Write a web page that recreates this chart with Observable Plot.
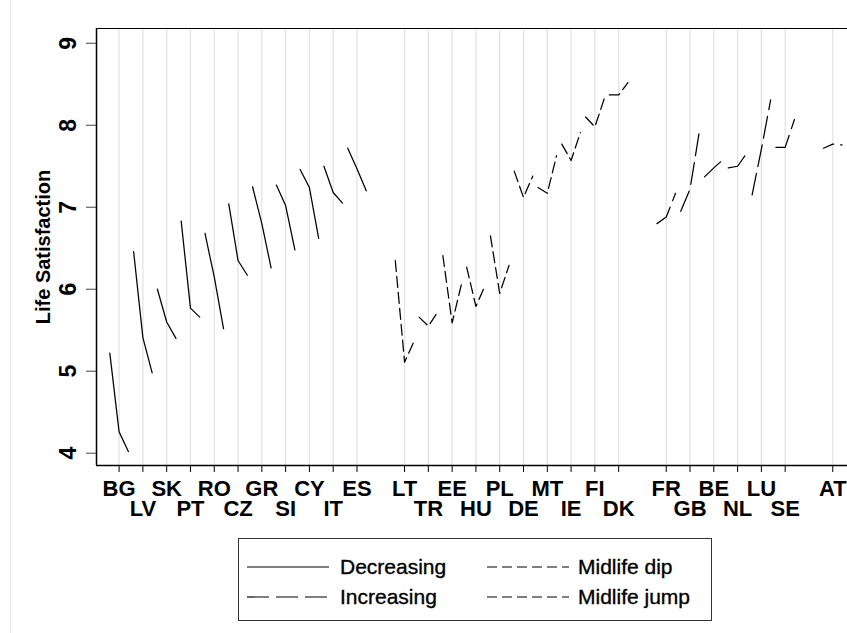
<!DOCTYPE html>
<html>
<head>
<meta charset="utf-8">
<script src="https://cdn.jsdelivr.net/npm/d3@7"></script>
<script src="https://cdn.jsdelivr.net/npm/@observablehq/plot@0.6"></script>
<style>
  body { margin: 0; background: #fff; font-family: "Liberation Sans", Arial, sans-serif; }
  #wrap { position: relative; width: 847px; height: 633px; overflow: hidden; }
  #edge { position: absolute; left: 10px; top: 0; width: 1px; height: 633px; background: #e6e6e6; }
  #chart { position: absolute; left: 0; top: 0; }
  #legend { position: absolute; left: 238px; top: 538px; width: 474px; height: 83px; border: 1px solid #333; box-sizing: border-box; }
</style>
</head>
<body>
<div id="wrap">
  <div id="edge"></div>
  <div id="chart"></div>
  <div id="legend"></div>
</div>
<script>
// ---- data ----
const countries = ["BG","LV","SK","PT","RO","CZ","GR","SI","CY","IT","ES",
                   "LT","TR","EE","HU","PL","DE","MT","IE","FI","DK",
                   "FR","GB","BE","NL","LU","SE","AT"];
const patterns = ["Decreasing","Decreasing","Decreasing","Decreasing","Decreasing","Decreasing",
                  "Decreasing","Decreasing","Decreasing","Decreasing","Decreasing",
                  "Midlife dip","Midlife dip","Midlife dip","Midlife dip","Midlife dip",
                  "Midlife dip","Midlife dip","Midlife dip","Midlife dip","Midlife dip",
                  "Increasing","Increasing","Increasing","Increasing","Increasing","Increasing",
                  "Midlife jump"];
const ageGroups = ["Young","Middle","Old"];
const lsYoung  = [5.22, 6.46, 6.00, 6.83, 6.68, 7.04, 7.25, 7.27, 7.46, 7.50, 7.72,
                  6.35, 5.66, 6.41, 6.27, 6.65, 7.44, 7.24, 7.77, 8.10, 8.37,
                  6.80, 6.95, 7.37, 7.48, 7.15, 7.73, 7.72];
const lsMiddle = [4.26, 5.41, 5.60, 5.77, 6.15, 6.35, 6.80, 7.02, 7.24, 7.18, 7.47,
                  5.11, 5.55, 5.59, 5.79, 5.95, 7.12, 7.17, 7.57, 7.98, 8.37,
                  6.88, 7.22, 7.48, 7.50, 7.71, 7.73, 7.77];
const lsOld    = [4.02, 4.98, 5.40, 5.66, 5.52, 6.17, 6.26, 6.48, 6.62, 7.05, 7.20,
                  5.36, 5.72, 6.06, 6.05, 6.29, 7.38, 7.63, 7.91, 8.32, 8.52,
                  7.17, 7.92, 7.58, 7.66, 8.31, 8.07, 7.76];
const yTicks = [4, 5, 6, 7, 8, 9];
const legendOrder = ["Decreasing", "Midlife dip", "Increasing", "Midlife jump"];

// ---- styles ----
const dashes = {
  "Decreasing": null,
  "Increasing": "22,7",
  "Midlife dip": "11,5",
  "Midlife jump": "11,7"
};
const legendDashes = {
  "Decreasing": null,
  "Increasing": "22,7",
  "Midlife dip": "10,5",
  "Midlife jump": "10,5"
};

// category positions: one slot per country, an empty slot between pattern groups
const positions = [];
const groupRank = [];
patterns.forEach((p, i) => {
  if (i === 0) { positions.push(1); groupRank.push(0); }
  else if (p === patterns[i - 1]) { positions.push(positions[i - 1] + 1); groupRank.push(groupRank[i - 1] + 1); }
  else { positions.push(positions[i - 1] + 2); groupRank.push(0); }
});
const spread = 0.39;
const series = [lsYoung, lsMiddle, lsOld];
const rows = [];
countries.forEach((c, i) => {
  ageGroups.forEach((a, j) => {
    rows.push({country: c, pattern: patterns[i], x: positions[i] + (j - 1) * spread, ls: series[j][i]});
  });
});
// labels alternate between two rows within each pattern group
const labels = countries.map((c, i) => ({country: c, x: positions[i], row: groupRank[i] % 2}));

const xDomain = [0.05, 31.62];
const yDomain = [3.85, 9.18];
const font = "'Liberation Sans', Arial, sans-serif";

const lineMarks = ["Decreasing", "Midlife dip", "Increasing", "Midlife jump"].map(p =>
  Plot.line(rows.filter(d => d.pattern === p), {
    x: "x", y: "ls", z: "country", stroke: "#000", strokeWidth: 1.25,
    strokeDasharray: dashes[p] || undefined
  })
);

const chart = Plot.plot({
  width: 847,
  height: 530,
  marginLeft: 96,
  marginRight: 0,
  marginTop: 28,
  marginBottom: 65,
  style: {fontFamily: font, background: "transparent"},
  x: {domain: xDomain, axis: null, label: null},
  y: {domain: yDomain, axis: null, label: null},
  marks: [
    Plot.ruleX(positions, {stroke: "#e2e2e2", strokeWidth: 1.2}),
    ...lineMarks,
    Plot.ruleX([xDomain[0]], {stroke: "#000", strokeWidth: 1.5}),
    Plot.ruleY([yDomain[1]], {stroke: "#000", strokeWidth: 1.2}),
    Plot.ruleY([yDomain[0]], {stroke: "#000", strokeWidth: 1.5}),
    Plot.axisX({ticks: positions, tickSize: 7, tickFormat: () => "", stroke: "#000", label: null}),
    Plot.axisY({ticks: yTicks, tickSize: 10, tickFormat: () => "", stroke: "#444", label: null}),
    Plot.text(labels.filter(d => d.row === 0), {
      x: "x", text: "country", frameAnchor: "bottom", dy: 30.5,
      fontSize: 22, fontWeight: "bold", fill: "#000"
    }),
    Plot.text(labels.filter(d => d.row === 1), {
      x: "x", text: "country", frameAnchor: "bottom", dy: 50.5,
      fontSize: 22, fontWeight: "bold", fill: "#000"
    }),
    Plot.text(yTicks, {
      y: d => d, text: d => String(d), frameAnchor: "left", dx: -28, rotate: -90,
      textAnchor: "middle", lineAnchor: "middle",
      fontSize: 23, fontWeight: "bold", fill: "#000"
    }),
    Plot.text(["Life Satisfaction"], {
      frameAnchor: "left", dx: -53, rotate: -90, text: d => d,
      textAnchor: "middle", lineAnchor: "middle",
      fontSize: 20, fontWeight: "bold", fill: "#000"
    })
  ]
});
document.getElementById("chart").appendChild(chart);

// ---- legend ----
const legend = d3.select("#legend").append("svg")
  .attr("width", 472).attr("height", 81)
  .style("font-family", font);
const cols = [{lineX: 8, textX: 101}, {lineX: 248, textX: 339}];
legendOrder.forEach((p, k) => {
  // order: Decreasing (col0,row0), Midlife dip (col1,row0), Increasing (col0,row1), Midlife jump (col1,row1)
  const col = cols[k % 2];
  const cy = k < 2 ? 28 : 58;
  const g = legend.append("g");
  g.append("line")
    .attr("x1", col.lineX).attr("x2", col.lineX + 82)
    .attr("y1", cy).attr("y2", cy)
    .attr("stroke", "#000").attr("stroke-width", 1.2)
    .attr("stroke-dasharray", legendDashes[p]);
  g.append("text")
    .attr("x", col.textX).attr("y", cy).attr("dy", "0.35em")
    .attr("font-size", 21).attr("fill", "#000")
    .attr("stroke", "#000").attr("stroke-width", 0.35)
    .text(p);
});
</script>
</body>
</html>
